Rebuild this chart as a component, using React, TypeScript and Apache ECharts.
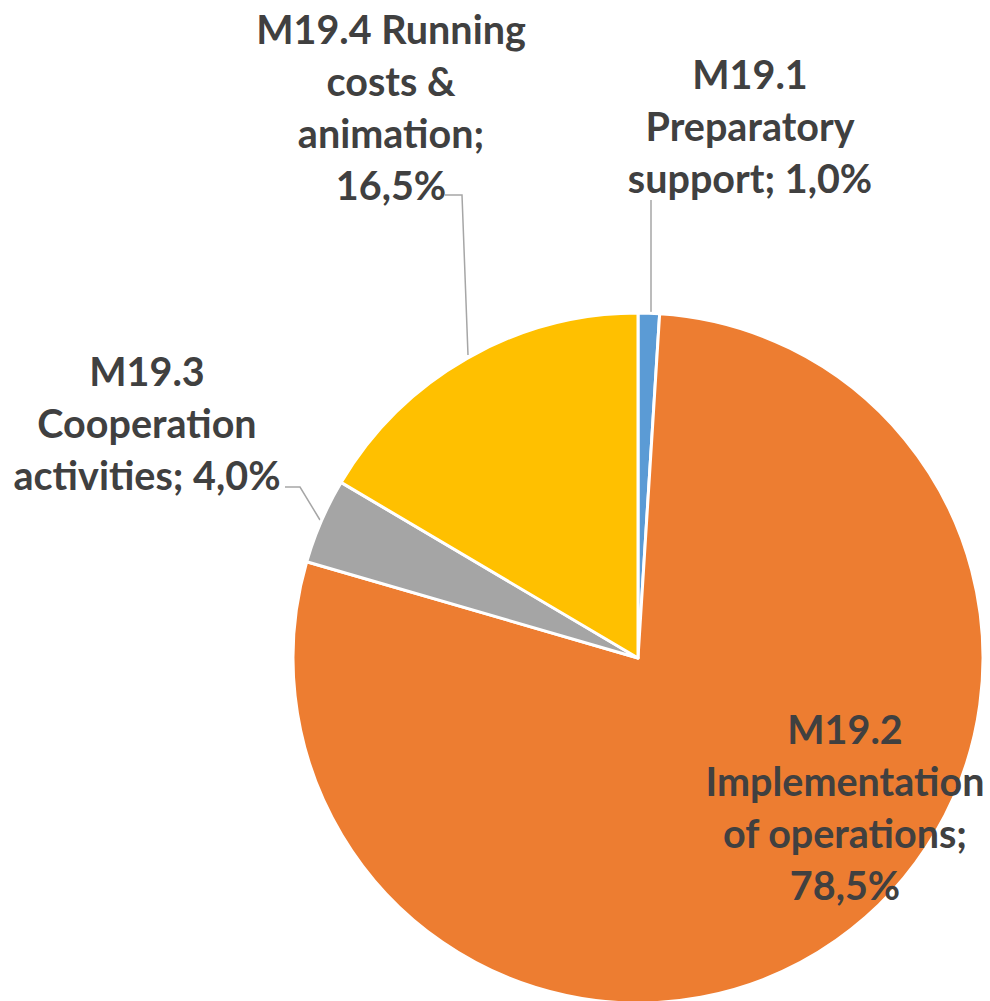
import React, { useEffect, useRef } from "react";
import * as echarts from "echarts";

const categories = [
  "M19.1\nPreparatory\nsupport",
  "M19.2\nImplementation\nof operations",
  "M19.3\nCooperation\nactivities",
  "M19.4 Running\ncosts &\nanimation",
];
const valueSeparators = [" ", "\n", " ", "\n"];
const shares = [1.0, 78.5, 4.0, 16.5];
const colors = ["#5B9BD5", "#ED7D31", "#A5A5A5", "#FFC000"];

const fmt = (v: number) => v.toFixed(1).replace(".", ",") + "%";

export default function App() {
  const ref = useRef<HTMLDivElement>(null);
  useEffect(() => {
    document.body.style.margin = "0";
    const chart = echarts.init(ref.current!, null, { renderer: "svg" });
    const layouts: Record<number, any> = {
      0: { x: 750, y: 125, lines: [[651, 313], [651, 260], [651, 200]] },
      1: { x: 845, y: 806, lines: null },
      2: { x: 147, y: 422, lines: [[320, 520], [300, 487], [285, 487]] },
      3: { x: 391, y: 106, lines: [[468, 355], [462, 195], [445, 195]] },
    };
    chart.setOption({
      animation: false,
      series: [
        {
          type: "pie",
          center: [638, 658],
          radius: 345,
          startAngle: 90,
          clockwise: true,
          data: categories.map((c, i) => ({
            name: c,
            value: shares[i],
            itemStyle: { color: colors[i] },
            label: { position: i === 1 ? "inside" : "outside" },
            labelLine: { show: i !== 1 },
          })),
          itemStyle: { borderColor: "#ffffff", borderWidth: 3 },
          label: {
            show: true,
            formatter: (p: any) => p.name + ";" + valueSeparators[p.dataIndex] + fmt(p.value),
            fontFamily: "Lato",
            fontWeight: "bold",
            fontSize: 39.5,
            lineHeight: 52,
            color: "#404040",
            align: "center",
            overflow: "none",
          },
          labelLine: {
            lineStyle: { color: "#A6A6A6", width: 1.5 },
          },
          labelLayout: (params: any) => {
            const l = layouts[params.dataIndex];
            const out: any = { x: l.x, y: l.y, align: "center", verticalAlign: "middle" };
            if (l.lines) out.labelLinePoints = l.lines;
            return out;
          },
        },
      ],
    });
    return () => chart.dispose();
  }, []);
  return <div ref={ref} style={{ position: "absolute", left: 0, top: 0, width: 990, height: 1001 }} />;
}
